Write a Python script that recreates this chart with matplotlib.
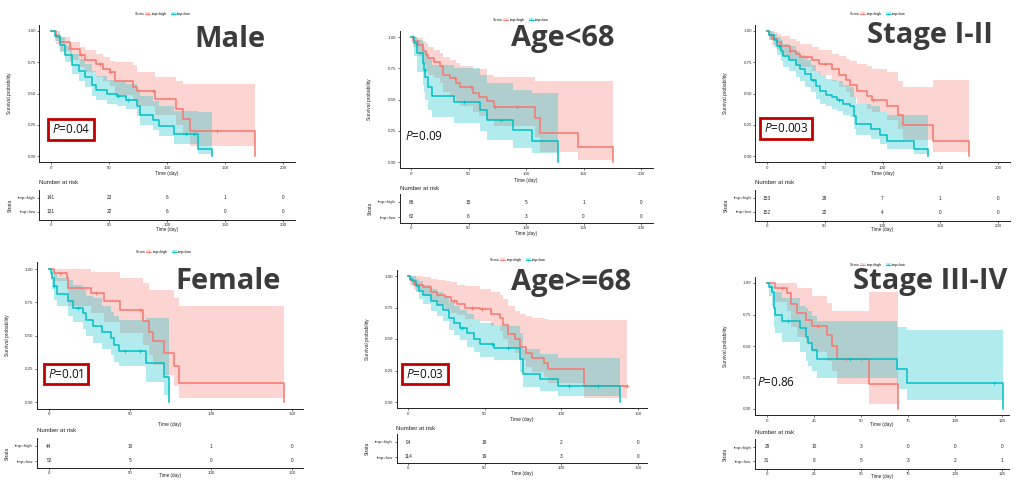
import numpy as np
import matplotlib.pyplot as plt
from matplotlib.patches import Patch
from matplotlib.lines import Line2D

plt.rcParams['font.family'] = ['Liberation Sans', 'DejaVu Sans']
plt.rcParams['mathtext.fontset'] = 'custom'
plt.rcParams['mathtext.rm'] = 'Open Sans'
plt.rcParams['mathtext.it'] = 'Open Sans:italic'

RED, TEAL = '#F8766D', '#00BFC4'
W, H = 1025, 480

# ---- Male
male_high_t  = [0, 4, 8, 16, 25, 29, 39, 45, 51, 55, 71, 74, 90, 108, 114, 120, 176]
male_high_s  = [1.00, 0.95, 0.91, 0.86, 0.81, 0.77, 0.74, 0.70, 0.67, 0.60, 0.55, 0.52, 0.46, 0.38, 0.30, 0.20, 0.00]
male_high_lo = [1.00, 0.90, 0.84, 0.77, 0.71, 0.67, 0.63, 0.60, 0.56, 0.49, 0.44, 0.40, 0.33, 0.25, 0.17, 0.08, 0.08]
male_high_hi = [1.00, 0.98, 0.955, 0.915, 0.87, 0.85, 0.82, 0.79, 0.76, 0.755, 0.73, 0.675, 0.635, 0.60, 0.58, 0.58, 0.58]
male_high_c  = [26, 42, 51, 88, 143]
male_low_t  = [0, 3.5, 8, 12, 18, 24, 29, 35, 39, 48, 57, 65, 74, 77, 88, 93, 106, 127, 139]
male_low_s  = [1.00, 0.96, 0.89, 0.81, 0.73, 0.68, 0.63, 0.57, 0.53, 0.50, 0.48, 0.45, 0.40, 0.33, 0.29, 0.24, 0.18, 0.06, 0.00]
male_low_lo = [1.00, 0.92, 0.83, 0.75, 0.66, 0.60, 0.55, 0.48, 0.45, 0.42, 0.40, 0.38, 0.32, 0.25, 0.21, 0.16, 0.10, 0.02, 0.02]
male_low_hi = [1.00, 1.00, 0.95, 0.88, 0.82, 0.78, 0.74, 0.68, 0.64, 0.61, 0.60, 0.58, 0.54, 0.48, 0.44, 0.40, 0.36, 0.35, 0.35]
male_low_c  = [58, 66, 116, 123]
male_risk_t    = [0, 50, 100, 150, 200]
male_risk_high = [141, 23, 6, 1, 0]
male_risk_low  = [131, 22, 6, 0, 0]

# ---- Age<68
age1_high_t  = [0, 2, 6, 10, 13, 15, 20, 25, 28, 34, 39, 43, 54, 59, 66, 72, 108, 112, 145, 176]
age1_high_s  = [1.00, 0.97, 0.94, 0.89, 0.86, 0.83, 0.80, 0.77, 0.70, 0.67, 0.63, 0.60, 0.55, 0.52, 0.49, 0.44, 0.35, 0.23, 0.12, 0.00]
age1_high_lo = [1.00, 0.92, 0.85, 0.78, 0.74, 0.70, 0.67, 0.63, 0.56, 0.52, 0.48, 0.45, 0.40, 0.37, 0.34, 0.29, 0.20, 0.08, 0.02, 0.02]
age1_high_hi = [1.00, 1.00, 0.99, 0.97, 0.95, 0.92, 0.90, 0.87, 0.84, 0.82, 0.79, 0.77, 0.745, 0.745, 0.70, 0.68, 0.65, 0.65, 0.65, 0.65]
age1_high_c  = [5, 38, 52, 73, 92]
age1_low_t  = [0, 3, 5, 10, 11, 12.5, 14.5, 18, 37, 60, 66, 89, 105, 128]
age1_low_s  = [1.00, 0.95, 0.87, 0.79, 0.74, 0.68, 0.60, 0.53, 0.48, 0.42, 0.34, 0.26, 0.17, 0.00]
age1_low_lo = [1.00, 0.85, 0.72, 0.62, 0.56, 0.50, 0.42, 0.36, 0.31, 0.25, 0.18, 0.11, 0.07, 0.07]
age1_low_hi = [1.00, 1.00, 0.98, 0.95, 0.92, 0.88, 0.83, 0.78, 0.75, 0.70, 0.63, 0.58, 0.55, 0.55]
age1_low_c  = [2, 12, 46, 78]
age1_risk_t    = [0, 50, 100, 150, 200]
age1_risk_high = [86, 15, 5, 1, 0]
age1_risk_low  = [62, 8, 3, 0, 0]

# ---- Stage I-II
st1_high_t  = [0, 1.5, 4, 9, 12, 20, 25, 29, 39, 45, 56, 62, 68, 72, 78, 87, 91, 104, 113, 118, 144, 175]
st1_high_s  = [1.00, 0.97, 0.94, 0.91, 0.88, 0.84, 0.82, 0.79, 0.77, 0.74, 0.70, 0.65, 0.61, 0.57, 0.52, 0.48, 0.45, 0.40, 0.33, 0.25, 0.12, 0.00]
st1_high_lo = [1.00, 0.93, 0.89, 0.85, 0.81, 0.77, 0.74, 0.71, 0.68, 0.65, 0.60, 0.55, 0.51, 0.47, 0.42, 0.38, 0.35, 0.29, 0.22, 0.13, 0.03, 0.03]
st1_high_hi = [1.00, 1.00, 0.99, 0.98, 0.96, 0.94, 0.92, 0.90, 0.87, 0.85, 0.82, 0.80, 0.78, 0.76, 0.74, 0.72, 0.70, 0.67, 0.60, 0.55, 0.61, 0.61]
st1_high_c  = [20, 34, 50, 92]
st1_low_t  = [0, 1.5, 6, 9, 12, 14, 19, 25, 29, 33, 38, 42, 46, 51, 56, 61, 66, 72, 75, 77, 90, 98, 104, 127, 139]
st1_low_s  = [1.00, 0.97, 0.93, 0.88, 0.84, 0.80, 0.77, 0.73, 0.70, 0.66, 0.61, 0.56, 0.52, 0.49, 0.47, 0.45, 0.42, 0.40, 0.32, 0.26, 0.22, 0.17, 0.12, 0.06, 0.00]
st1_low_lo = [1.00, 0.93, 0.87, 0.81, 0.76, 0.71, 0.68, 0.63, 0.60, 0.55, 0.51, 0.46, 0.42, 0.40, 0.38, 0.36, 0.33, 0.31, 0.22, 0.17, 0.14, 0.10, 0.06, 0.02, 0.02]
st1_low_hi = [1.00, 1.00, 0.98, 0.95, 0.93, 0.90, 0.88, 0.84, 0.81, 0.77, 0.73, 0.68, 0.65, 0.62, 0.61, 0.60, 0.57, 0.55, 0.47, 0.42, 0.40, 0.35, 0.33, 0.33, 0.33]
st1_low_c  = [10, 40, 62]
st1_risk_t    = [0, 50, 100, 150, 200]
st1_risk_high = [153, 29, 7, 1, 0]
st1_risk_low  = [152, 22, 4, 0, 0]

# ---- Female
fem_high_t  = [0, 3, 11, 12, 26, 34, 44, 58, 62, 64, 71, 77, 80, 145]
fem_high_s  = [1.00, 0.97, 0.93, 0.86, 0.82, 0.76, 0.69, 0.61, 0.53, 0.46, 0.37, 0.27, 0.14, 0.00]
fem_high_lo = [1.00, 0.91, 0.85, 0.72, 0.67, 0.60, 0.52, 0.43, 0.35, 0.28, 0.20, 0.12, 0.03, 0.03]
fem_high_hi = [1.00, 1.00, 1.00, 1.00, 0.975, 0.975, 0.93, 0.895, 0.845, 0.845, 0.845, 0.78, 0.72, 0.72]
fem_high_c  = [7, 29, 56]
fem_low_t  = [0, 1, 2, 3, 5, 12, 15, 21, 23, 27, 33, 38, 40, 43, 60, 71, 74]
fem_low_s  = [1.00, 0.97, 0.93, 0.87, 0.81, 0.76, 0.71, 0.67, 0.62, 0.57, 0.53, 0.48, 0.43, 0.38, 0.29, 0.19, 0.00]
fem_low_lo = [1.00, 0.92, 0.85, 0.77, 0.72, 0.65, 0.60, 0.55, 0.50, 0.44, 0.40, 0.35, 0.30, 0.27, 0.15, 0.05, 0.05]
fem_low_hi = [1.00, 1.00, 0.99, 0.96, 0.93, 0.92, 0.88, 0.85, 0.80, 0.78, 0.72, 0.68, 0.65, 0.62, 0.63, 0.63, 0.63]
fem_low_c  = [3, 18, 47, 56]
fem_risk_t    = [0, 50, 100, 150]
fem_risk_high = [44, 10, 1, 0]
fem_risk_low  = [52, 5, 0, 0]

# ---- Age>=68
age2_high_t  = [0, 1.5, 4, 5.5, 10, 15, 19, 24, 28, 32, 37, 47, 54, 60, 62, 65, 70, 73, 77, 81, 89, 91, 115, 143]
age2_high_s  = [1.00, 0.97, 0.94, 0.93, 0.91, 0.87, 0.85, 0.83, 0.80, 0.78, 0.75, 0.74, 0.70, 0.67, 0.61, 0.54, 0.50, 0.44, 0.39, 0.35, 0.31, 0.26, 0.13, 0.13]
age2_high_lo = [1.00, 0.93, 0.89, 0.88, 0.84, 0.80, 0.77, 0.74, 0.71, 0.69, 0.66, 0.64, 0.60, 0.56, 0.50, 0.43, 0.39, 0.33, 0.28, 0.24, 0.20, 0.15, 0.03, 0.03]
age2_high_hi = [1.00, 1.00, 1.00, 1.00, 0.99, 0.98, 0.97, 0.96, 0.95, 0.93, 0.92, 0.90, 0.87, 0.85, 0.82, 0.76, 0.72, 0.70, 0.68, 0.67, 0.66, 0.65, 0.65, 0.65]
age2_high_c  = [5, 30, 42, 48, 143]
age2_low_t  = [0, 1, 2.5, 5, 7, 10, 15, 19, 23, 26.5, 30, 34, 38.5, 43, 47, 56, 73, 75, 86, 98, 138.5]
age2_low_s  = [1.00, 0.98, 0.96, 0.92, 0.88, 0.85, 0.80, 0.77, 0.73, 0.67, 0.63, 0.59, 0.55, 0.50, 0.46, 0.43, 0.34, 0.22, 0.18, 0.13, 0.00]
age2_low_lo = [1.00, 0.96, 0.92, 0.87, 0.82, 0.78, 0.72, 0.68, 0.64, 0.57, 0.53, 0.49, 0.44, 0.40, 0.36, 0.33, 0.24, 0.12, 0.09, 0.05, 0.05]
age2_low_hi = [1.00, 1.00, 1.00, 0.98, 0.96, 0.93, 0.90, 0.87, 0.84, 0.79, 0.76, 0.73, 0.70, 0.66, 0.63, 0.60, 0.55, 0.42, 0.38, 0.35, 0.35]
age2_low_c  = [35, 55, 65, 105, 124]
age2_risk_t    = [0, 50, 100, 150]
age2_risk_high = [94, 18, 2, 0]
age2_risk_low  = [114, 19, 3, 0]

# ---- Stage III-IV
st3_high_t  = [0, 4.5, 10.5, 13, 16, 21, 24, 32, 34.5, 37, 54, 69.5]
st3_high_s  = [1.00, 0.96, 0.92, 0.83, 0.76, 0.71, 0.66, 0.59, 0.50, 0.40, 0.20, 0.00]
st3_high_lo = [1.00, 0.85, 0.78, 0.65, 0.57, 0.52, 0.45, 0.38, 0.30, 0.20, 0.04, 0.04]
st3_high_hi = [1.00, 1.00, 1.00, 1.00, 0.96, 0.96, 0.90, 0.84, 0.78, 0.78, 0.93, 0.93]
st3_high_c  = [8, 27, 42, 50]
st3_low_t  = [0, 1, 2.5, 3.5, 4.5, 8, 17.5, 20.5, 22, 24, 26.5, 69, 74.5, 125.5]
st3_low_s  = [1.00, 0.97, 0.93, 0.80, 0.75, 0.70, 0.64, 0.57, 0.52, 0.47, 0.40, 0.32, 0.21, 0.00]
st3_low_lo = [1.00, 0.90, 0.82, 0.65, 0.60, 0.53, 0.45, 0.38, 0.34, 0.30, 0.25, 0.16, 0.07, 0.07]
st3_low_hi = [1.00, 1.00, 1.00, 0.96, 0.93, 0.88, 0.82, 0.80, 0.78, 0.74, 0.70, 0.65, 0.63, 0.63]
st3_low_c  = [2, 11, 44, 121]
st3_risk_t    = [0, 25, 50, 75, 100, 125]
st3_risk_high = [29, 10, 3, 0, 0, 0]
st3_risk_low  = [31, 8, 5, 3, 2, 1]

strata_labels = ['tmp=high', 'tmp=low']

panels = [
    dict(title='Male', p='0.04', boxed=True,
         high=(male_high_t, male_high_s, male_high_lo, male_high_hi, male_high_c),
         low=(male_low_t, male_low_s, male_low_lo, male_low_hi, male_low_c),
         rt=male_risk_t, rh=male_risk_high, rl=male_risk_low,
         xlim=(-10, 210), px0=51, pxT=283, py1=31, py0=156, rows=(198, 212, 220), nar=183,
         leg=(135, 14), tit=(230, 47), pxy=(71, 129.5), xdy=11, tdy=10),
    dict(title='Age<68', p='0.09', boxed=False,
         high=(age1_high_t, age1_high_s, age1_high_lo, age1_high_hi, age1_high_c),
         low=(age1_low_t, age1_low_s, age1_low_lo, age1_low_hi, age1_low_c),
         rt=age1_risk_t, rh=age1_risk_high, rl=age1_risk_low,
         xlim=(-10, 210), px0=411, pxT=641, py1=37, py0=162, rows=(202, 217, 223), nar=189,
         leg=(493, 20), tit=(563, 46), pxy=(424, 137), xdy=12, tdy=11),
    dict(title='Stage I-II', p='0.003', boxed=True,
         high=(st1_high_t, st1_high_s, st1_high_lo, st1_high_hi, st1_high_c),
         low=(st1_low_t, st1_low_s, st1_low_lo, st1_low_hi, st1_low_c),
         rt=st1_risk_t, rh=st1_risk_high, rl=st1_risk_low,
         xlim=(-10, 210), px0=767, pxT=998, py1=31, py0=156, rows=(198, 212, 221), nar=183,
         leg=(850, 14), tit=(930, 43), pxy=(786, 128.5), xdy=11, tdy=9),
    dict(title='Female', p='0.01', boxed=True,
         high=(fem_high_t, fem_high_s, fem_high_lo, fem_high_hi, fem_high_c),
         low=(fem_low_t, fem_low_s, fem_low_lo, fem_low_hi, fem_low_c),
         rt=fem_risk_t, rh=fem_risk_high, rl=fem_risk_low,
         xlim=(-7.5, 157), px0=49, pxT=292, py1=269, py0=402, rows=(446, 461, 468), nar=430,
         leg=(136, 252), tit=(228, 289), pxy=(66, 374), xdy=16, tdy=8),
    dict(title='Age>=68', p='0.03', boxed=True,
         high=(age2_high_t, age2_high_s, age2_high_lo, age2_high_hi, age2_high_c),
         low=(age2_low_t, age2_low_s, age2_low_lo, age2_low_hi, age2_low_c),
         rt=age2_risk_t, rh=age2_risk_high, rl=age2_risk_low,
         xlim=(-7.5, 156), px0=408, pxT=638, py1=276, py0=402, rows=(442, 457, 463), nar=428,
         leg=(490, 260), tit=(571, 290), pxy=(425, 374), xdy=11, tdy=11),
    dict(title='Stage III-IV', p='0.86', boxed=False,
         high=(st3_high_t, st3_high_s, st3_high_lo, st3_high_hi, st3_high_c),
         low=(st3_low_t, st3_low_s, st3_low_lo, st3_low_hi, st3_low_c),
         rt=st3_risk_t, rh=st3_risk_high, rl=st3_risk_low,
         xlim=(-6.4, 128.5), px0=767, pxT=1002, py1=283, py0=409, rows=(447, 461, 469), nar=433,
         leg=(850, 265), tit=(930, 289), pxy=(776, 382), xdy=9, tdy=7.5),
]

fig = plt.figure(figsize=(W / 100, H / 100), dpi=100)


def px_axes(l, t, r, b):
    return fig.add_axes([l / W, 1 - b / H, (r - l) / W, (b - t) / H])


def style(ax):
    for s in ('top', 'right'):
        ax.spines[s].set_visible(False)
    for s in ('left', 'bottom'):
        ax.spines[s].set_linewidth(0.7)
        ax.spines[s].set_color('#222222')
    ax.tick_params(length=1.6, width=0.5, pad=1, labelsize=3.2, colors='#333333')


def curve(ax, data, color):
    t, s, lo, hi, cens = data
    ax.fill_between(t, lo, hi, step='post', color=color, alpha=0.3, lw=0)
    ax.step(t, s, where='post', color=color, lw=1.1)
    idx = np.searchsorted(t, cens, side='right') - 1
    ax.plot(cens, np.asarray(s)[idx], ls='none', marker='+', ms=2.8, mew=0.6, color=color)


for p in panels:
    T = p['rt'][-1]
    k = (p['pxT'] - p['px0']) / T
    left = p['px0'] + p['xlim'][0] * k
    right = p['px0'] + p['xlim'][1] * k
    ysc = p['py0'] - p['py1']
    top = p['py1'] - 0.05 * ysc
    bottom = p['py0'] + 0.05 * ysc

    # survival curves
    ax = px_axes(left, top, right, bottom)
    curve(ax, p['high'], RED)
    curve(ax, p['low'], TEAL)
    ax.set_xlim(*p['xlim'])
    ax.set_ylim(-0.05, 1.05)
    ax.set_xticks(p['rt'])
    ax.set_yticks([0, 0.25, 0.5, 0.75, 1.0])
    ax.set_yticklabels(['0.00', '0.25', '0.50', '0.75', '1.00'])
    style(ax)
    ax.set_xlabel('Time (day)', fontsize=3.5, color='#222222')
    ax.xaxis.set_label_coords(0.5, -p['xdy'] / (bottom - top))
    ax.xaxis.label.set_va('center')
    ax.set_ylabel('Survival probability', fontsize=3.5, color='#222222')
    ax.yaxis.set_label_coords(-27 / (right - left), 0.5)

    # strata legend
    lx, ly = p['leg']
    fig.text(lx / W, 1 - ly / H, 'Strata', fontsize=2.6, va='center', color='#222222')
    handles = [(Patch(fc=c, alpha=0.3, lw=0), Line2D([], [], color=c, lw=0.6, marker='+', ms=2, mew=0.5))
               for c in (RED, TEAL)]
    ax.legend(handles, strata_labels, loc='center left', ncol=2, frameon=False, fontsize=2.6,
              bbox_to_anchor=((lx + 10) / W, 1 - ly / H), bbox_transform=fig.transFigure,
              handlelength=1.4, handleheight=0.9, handletextpad=0.4, columnspacing=1.2,
              borderpad=0, borderaxespad=0)

    # panel title
    fig.text(p['tit'][0] / W, 1 - p['tit'][1] / H, p['title'], fontsize=21, fontweight='bold',
             family='Open Sans', color='#3b3b3b', ha='center', va='baseline')

    # log-rank p-value
    bbox = dict(boxstyle='square,pad=0.32', fc='white', ec='#C00000', lw=2.0) if p['boxed'] else None
    fig.text(p['pxy'][0] / W, 1 - p['pxy'][1] / H, r'$P$=' + p['p'], fontsize=8.5, family='Open Sans',
             color='#111111', ha='center', va='center', bbox=bbox)

    # number-at-risk table
    r_hi, r_lo, t_bot = p['rows']
    d = r_lo - r_hi
    tb = px_axes(left, r_hi - 8, right, t_bot)
    for x, nh, nl in zip(p['rt'], p['rh'], p['rl']):
        tb.text(x, 1, str(nh), fontsize=3.4, ha='center', va='center', color='#222222')
        tb.text(x, 0, str(nl), fontsize=3.4, ha='center', va='center', color='#222222')
    tb.set_xlim(*p['xlim'])
    tb.set_ylim(-(t_bot - r_lo) / d, 1 + 8 / d)
    tb.set_xticks(p['rt'])
    tb.set_yticks([1, 0])
    tb.set_yticklabels(strata_labels)
    for lab, c in zip(tb.get_yticklabels(), (RED, TEAL)):
        lab.set_color(c)
    style(tb)
    tb.tick_params(axis='x', pad=0.5)
    tb.set_xlabel('Time (day)', fontsize=3.3, color='#222222')
    tb.xaxis.set_label_coords(0.5, -p['tdy'] / (t_bot - r_hi + 8))
    tb.xaxis.label.set_va('center')
    tb.set_ylabel('Strata', fontsize=3.5, color='#222222')
    tb.yaxis.set_label_coords(-27 / (right - left), 0.5)
    fig.text(left / W, 1 - p['nar'] / H, 'Number at risk', fontsize=4.3, va='center', color='#222222')

fig.savefig('out.png', dpi=100)
